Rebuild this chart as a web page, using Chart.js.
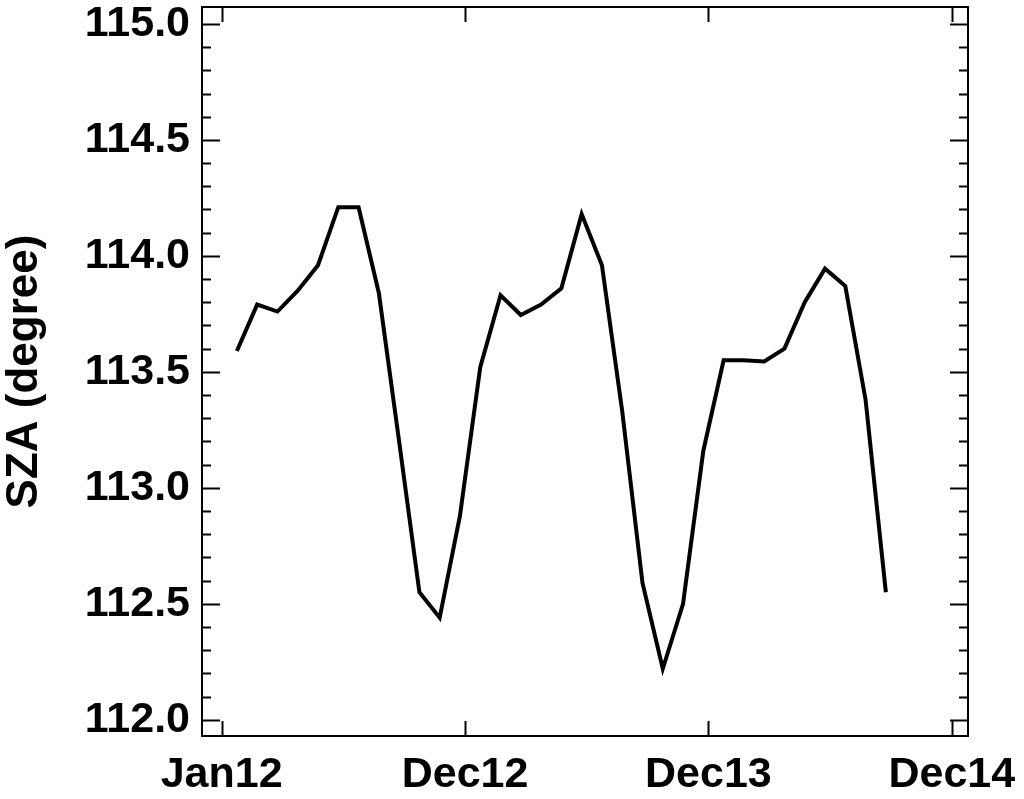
<!DOCTYPE html>
<html lang="en">
<head>
    <meta charset="utf-8">
    <title>SZA</title>
    <script src="https://cdn.jsdelivr.net/npm/chart.js"></script>
    <style>
        html, body { margin: 0; padding: 0; background: #ffffff; }
        #wrap { width: 1024px; height: 799px; }
    </style>
</head>
<body>
    <div id="wrap"><canvas id="szaChart" width="1024" height="799"></canvas></div>

    <script>
        // monthly positions (months since the Jan12 tick)
        const monthPos = [0.75, 1.75, 2.75, 3.75, 4.75, 5.75, 6.75, 7.75, 8.75, 9.75, 10.75,
                          11.75, 12.75, 13.75, 14.75, 15.75, 16.75, 17.75, 18.75, 19.75, 20.75,
                          21.75, 22.75, 23.75, 24.75, 25.75, 26.75, 27.75, 28.75, 29.75, 30.75,
                          31.75, 32.75];
        // solar zenith angle in degrees
        const szaValues = [113.59, 113.79, 113.76, 113.85, 113.96, 114.21, 114.21, 113.84, 113.20, 112.55, 112.44,
                           112.88, 113.52, 113.83, 113.745, 113.79, 113.86, 114.18, 113.96, 113.33, 112.59,
                           112.22, 112.50, 113.16, 113.55, 113.55, 113.545, 113.60, 113.80, 113.945, 113.87,
                           113.38, 112.55];
        const xTickVals = [0, 12, 24, 36];
        const xTickLabels = ['Jan12', 'Dec12', 'Dec13', 'Dec14'];
        const yTickVals = [112.0, 112.5, 113.0, 113.5, 114.0, 114.5, 115.0];

        const points = monthPos.map((m, i) => ({ x: m, y: szaValues[i] }));
        const fontFam = '"Liberation Sans", Arial, sans-serif';

        // frame + inward tick marks on all four sides
        const innerTicks = {
            id: 'innerTicks',
            afterDraw(chart) {
                const { ctx, chartArea: a, scales: { x, y } } = chart;
                ctx.save();
                ctx.strokeStyle = '#000';
                ctx.lineWidth = 2;
                ctx.lineCap = 'butt';
                ctx.beginPath();
                for (let k = 0; k <= 30; k++) {
                    const v = 112 + k * 0.1;
                    const py = Math.round(y.getPixelForValue(v)) + 0.5;
                    const len = (k % 5 === 0) ? 18 : 9;
                    ctx.moveTo(a.left, py); ctx.lineTo(a.left + len, py);
                    ctx.moveTo(a.right, py); ctx.lineTo(a.right - len, py);
                }
                xTickVals.forEach(v => {
                    const px = Math.round(x.getPixelForValue(v)) + 0.5;
                    ctx.moveTo(px, a.bottom); ctx.lineTo(px, a.bottom - 15);
                    ctx.moveTo(px, a.top); ctx.lineTo(px, a.top + 15);
                });
                ctx.stroke();
                ctx.strokeRect(a.left, a.top, a.width, a.height);
                ctx.restore();
            }
        };

        const ctx = document.getElementById('szaChart').getContext('2d');
        new Chart(ctx, {
            type: 'line',
            data: {
                datasets: [{
                    data: points,
                    borderColor: '#000000',
                    borderWidth: 4,
                    borderJoinStyle: 'miter',
                    pointRadius: 0,
                    tension: 0,
                    fill: false
                }]
            },
            options: {
                responsive: false,
                animation: false,
                events: [],
                layout: { padding: { left: 0, top: 7, right: 56, bottom: 0 } },
                plugins: { legend: { display: false }, tooltip: { enabled: false } },
                scales: {
                    x: {
                        type: 'linear',
                        min: -0.97,
                        max: 36.8,
                        grid: { display: false, drawTicks: false },
                        border: { display: false },
                        afterBuildTicks: s => { s.ticks = xTickVals.map(v => ({ value: v })); },
                        afterFit: s => { s.height = 63; s.paddingLeft = 0; s.paddingRight = 0; },
                        ticks: {
                            autoSkip: false,
                            maxRotation: 0,
                            padding: 13,
                            color: '#000',
                            font: { family: fontFam, size: 43, weight: 'bold' },
                            callback: v => xTickLabels[xTickVals.indexOf(v)]
                        }
                    },
                    y: {
                        min: 111.93,
                        max: 115.073,
                        grid: { display: false, drawTicks: false },
                        border: { display: false },
                        afterBuildTicks: s => { s.ticks = yTickVals.map(v => ({ value: v })); },
                        afterFit: s => { s.width = 202; s.paddingTop = 0; s.paddingBottom = 0; },
                        title: {
                            display: true,
                            text: 'SZA (degree)',
                            color: '#000',
                            padding: 0,
                            font: { family: fontFam, size: 44, weight: 'bold', lineHeight: 1.15 }
                        },
                        ticks: {
                            autoSkip: false,
                            padding: 12,
                            color: '#000',
                            font: { family: fontFam, size: 43, weight: 'bold' },
                            callback: v => v.toFixed(1)
                        }
                    }
                }
            },
            plugins: [innerTicks]
        });
    </script>
</body>
</html>
